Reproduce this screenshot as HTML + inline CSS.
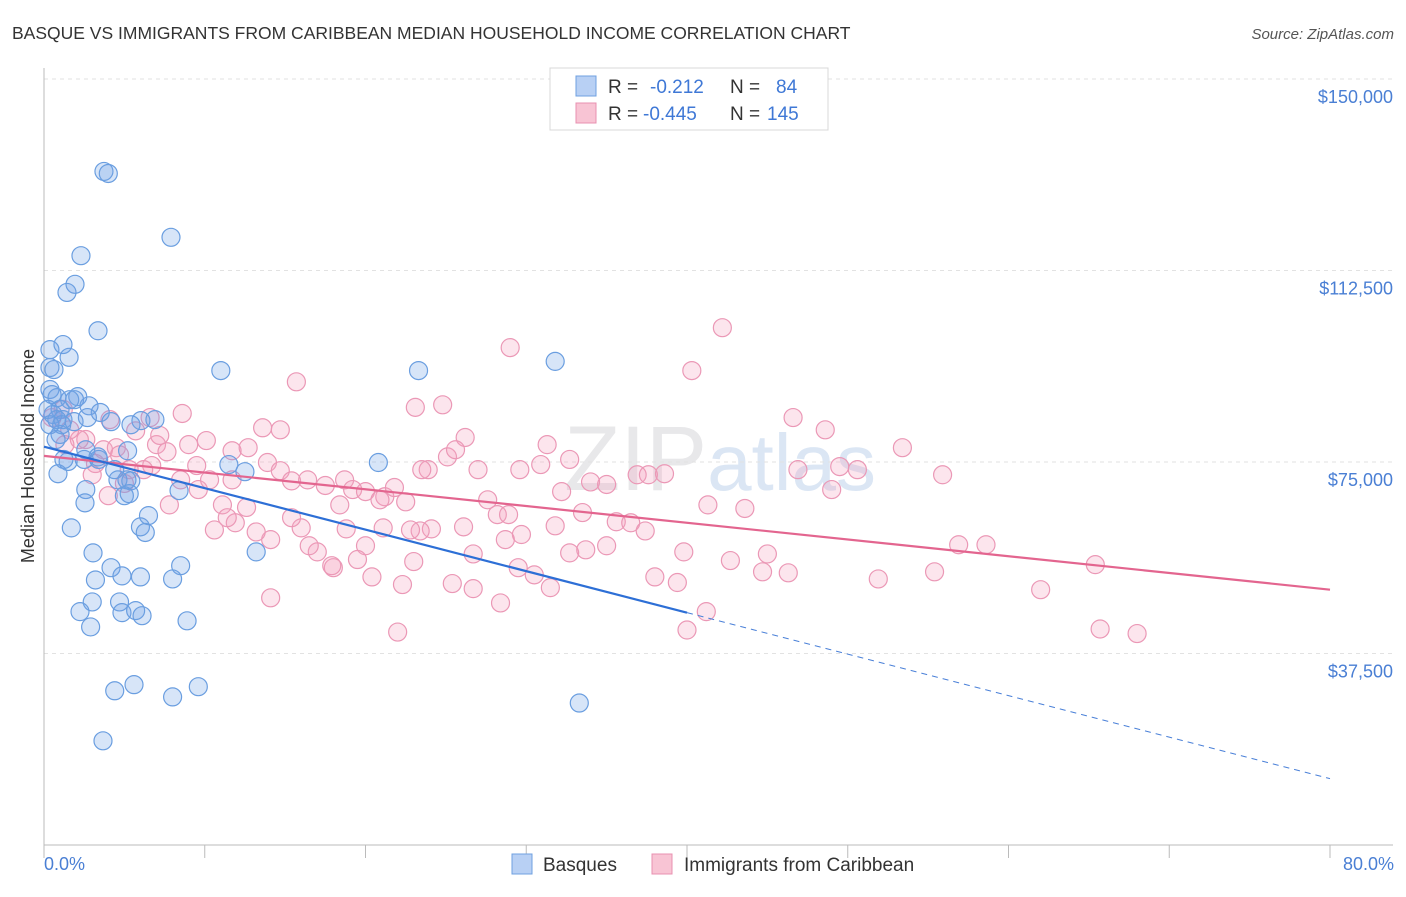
<!DOCTYPE html>
<html><head><meta charset="utf-8">
<style>
body{margin:0;background:#fff;font-family:"Liberation Sans",sans-serif;}
svg text{font-family:"Liberation Sans",sans-serif;}
</style></head>
<body>
<svg id="chart" width="1406" height="892" viewBox="0 0 1406 892" xmlns="http://www.w3.org/2000/svg">
<text x="12" y="39" font-size="17.5" fill="#333">BASQUE VS IMMIGRANTS FROM CARIBBEAN MEDIAN HOUSEHOLD INCOME CORRELATION CHART</text>
<text x="1394" y="39" font-size="15" fill="#555" font-style="italic" text-anchor="end">Source: ZipAtlas.com</text>
<text x="720" y="490" font-size="92" fill="#e8e8ea" text-anchor="middle" font-family="Liberation Serif"><tspan>ZIP</tspan><tspan fill="#dbe6f4" font-family="Liberation Sans" font-size="80">atlas</tspan></text>
<g id="grid"></g>
<g id="axes"></g>
<g id="pts-pink"></g>
<g id="pts-blue"></g>
<g id="trends"></g>
<text transform="translate(34,456) rotate(-90)" font-size="18" fill="#333" text-anchor="middle">Median Household Income</text>
<text x="44" y="870" font-size="18" fill="#4a7fd4">0.0%</text>
<text x="1394" y="870" font-size="18" fill="#4a7fd4" text-anchor="end">80.0%</text>
<g>
<rect x="550" y="68" width="278" height="62" fill="#fff" stroke="#d8d8d8"/>
<rect x="576" y="76" width="20" height="20" fill="#b8d0f4" stroke="#6fa0e0"/>
<text x="608" y="93" font-size="19" fill="#333">R = </text><text x="650" y="93" font-size="19" fill="#3f78d6">-0.212</text>
<text x="730" y="93" font-size="19" fill="#333">N = </text><text x="776" y="93" font-size="19" fill="#3f78d6">84</text>
<rect x="576" y="103" width="20" height="20" fill="#f8c4d4" stroke="#e890b0"/>
<text x="608" y="120" font-size="19" fill="#333">R = </text><text x="643" y="120" font-size="19" fill="#3f78d6">-0.445</text>
<text x="730" y="120" font-size="19" fill="#333">N = </text><text x="767" y="120" font-size="19" fill="#3f78d6">145</text>
</g>
<g>
<rect x="512" y="854" width="20" height="20" fill="#b8d0f4" stroke="#6fa0e0"/>
<text x="543" y="871" font-size="19" fill="#333">Basques</text>
<rect x="652" y="854" width="20" height="20" fill="#f8c4d4" stroke="#e890b0"/>
<text x="684" y="871" font-size="19" fill="#333">Immigrants from Caribbean</text>
</g>
</svg>
<script>
const yTicks=[37500,75000,112500,150000];
const yTickLabels=["$37,500","$75,000","$112,500","$150,000"];
const xTicks=[0,10,20,30,40,50,60,70,80];
const blueX=[3.73,4.0,7.9,2.3,1.43,1.93,3.36,0.37,1.18,1.56,0.37,0.62,11.0,23.3,31.8,0.37,0.81,2.1,1.6,1.0,2.8,3.5,0.56,1.18,1.87,4.17,6.03,5.41,1.0,2.6,3.36,5.2,1.5,1.24,0.87,11.5,12.5,20.8,4.6,5.4,5.16,2.6,5.0,5.3,8.4,2.55,6.5,1.7,6.0,6.3,3.05,13.2,4.17,8.5,3.2,4.85,6.0,8.0,3.0,4.7,2.24,4.85,5.7,6.1,2.9,8.9,5.6,4.4,8.0,9.6,33.3,3.67,0.25,0.5,0.8,1.9,2.7,1.1,2.5,3.4,6.9,0.37,0.75,4.4];
const blueY=[131.9,131.5,119.0,115.4,108.2,109.8,100.7,97.0,98.0,95.5,93.5,93.1,92.9,92.9,94.7,89.2,87.6,87.8,87.2,85.3,86.0,84.7,84.3,83.3,82.9,82.9,83.1,82.3,80.4,77.4,76.0,77.2,75.1,75.5,72.7,74.5,73.1,74.9,71.5,71.3,71.5,69.6,68.4,68.8,69.4,67.0,64.5,62.1,62.3,61.2,57.2,57.4,54.3,54.7,51.9,52.7,52.5,52.1,47.6,47.6,45.7,45.5,45.9,44.9,42.7,43.9,31.4,30.2,29.0,31.0,27.8,20.4,85.3,88.2,83.3,87.2,83.7,82.3,75.5,75.5,83.3,82.3,79.4,73.5];
const pinkX=[42.2,29.0,40.3,15.7,23.1,24.8,8.6,13.6,0.5,2.6,3.7,4.5,5.7,7.0,7.2,7.65,10.1,11.7,12.7,13.9,14.7,15.4,16.4,17.5,18.7,19.2,20.0,21.2,21.8,22.5,23.9,25.1,26.2,27.0,27.6,28.2,28.9,29.6,30.9,31.3,32.7,32.2,34.0,35.0,36.9,37.6,38.6,41.3,43.6,46.9,48.6,49.5,50.6,53.4,55.9,46.6,49.0,33.5,35.6,36.5,37.4,39.8,42.7,45.0,44.7,46.3,51.9,55.4,56.9,58.6,62.0,65.4,65.7,68.0,41.2,40.0,38.0,39.4,35.0,33.7,32.7,31.8,29.7,28.7,26.7,26.1,25.4,26.7,28.4,29.5,30.5,31.5,24.1,23.4,23.0,22.3,22.0,20.4,20.0,18.8,18.4,18.0,17.0,16.5,16.0,15.4,14.1,13.2,11.9,10.6,11.1,9.6,9.5,8.5,7.8,6.7,6.2,5.3,5.0,4.0,3.2,3.0,2.2,1.6,1.2,4.1,6.6,11.4,12.6,14.1,21.1,23.5,25.6,22.8,20.9,19.5,17.9,14.7,10.3,11.7,9.0,4.7,1.3];
const pinkY=[101.3,97.4,92.9,90.7,85.7,86.2,84.5,81.7,83.7,79.4,77.4,77.8,81.1,78.4,80.2,77.0,79.2,77.2,77.8,74.9,73.3,71.3,71.5,70.4,71.5,69.6,69.2,68.2,70.0,67.2,73.5,76.0,79.8,73.5,67.6,64.7,64.7,73.5,74.5,78.4,75.5,69.2,71.1,70.6,72.5,72.5,72.7,66.6,65.9,73.5,81.3,74.1,73.5,77.8,72.5,83.7,69.6,65.1,63.3,63.1,61.5,57.4,55.7,57.0,53.5,53.3,52.1,53.5,58.8,58.8,50.0,54.9,42.3,41.4,45.7,42.1,52.5,51.4,58.6,57.8,57.2,62.5,60.8,59.8,57.0,62.3,51.2,50.2,47.4,54.3,52.9,50.4,61.9,61.5,55.5,51.0,41.7,52.5,58.6,61.9,66.6,54.3,57.4,58.6,62.1,64.1,59.8,61.3,63.1,61.7,66.6,69.6,74.3,71.5,66.6,74.3,73.5,73.5,70.8,68.4,74.7,72.5,79.4,81.3,85.3,83.3,83.7,64.1,66.1,48.4,62.1,73.5,77.4,61.7,67.6,55.9,54.7,81.3,71.5,71.5,78.4,76.4,78.4];
const blueTrend=[78.0,-0.8125];
const pinkTrend=[76.2,-0.3275];

const NS="http://www.w3.org/2000/svg";
const X0=44,X1=1330,Y0=845,YTOP=79;
function sx(p){return X0+(p/80)*(X1-X0);}
function sy(v){return Y0-(v/150000)*(Y0-YTOP);}
function mk(tag,attrs,parent){const e=document.createElementNS(NS,tag);for(const k in attrs)e.setAttribute(k,attrs[k]);parent.appendChild(e);return e;}
const grid=document.getElementById('grid'),axes=document.getElementById('axes');
yTicks.forEach((t,i)=>{
  const l=mk('line',{x1:X0,x2:1393,y1:sy(t),y2:sy(t),stroke:'#e2e2e2','stroke-dasharray':'4,4'},grid);
  
  
  const tx=mk('text',{x:1393,y:sy(t)+24,'font-size':18,fill:'#4a7fd4','text-anchor':'end'},grid);
  tx.textContent=yTickLabels[i];
  
  
});
const xa=mk('line',{x1:X0,x2:1393,y1:Y0,y2:Y0,stroke:'#bbb'},axes);


const ya=mk('line',{x1:X0,x2:X0,y1:68,y2:Y0,stroke:'#bbb'},axes);


xTicks.forEach(t=>{
  const l=mk('line',{x1:sx(t),x2:sx(t),y1:Y0,y2:Y0+13,stroke:'#bbb'},axes);
  
  
});
function pts(xs,ys,g,fill,stroke,name){
  const gp=document.getElementById(g);
  xs.forEach((x,i)=>{
    const c=mk('circle',{cx:sx(x),cy:sy(ys[i]*1000),r:9,fill:fill,stroke:stroke,'stroke-width':1.2},gp);
    
    
  });
}
pts(pinkX,pinkY,'pts-pink','rgba(244,160,190,0.28)','#eb98b6','caribbean-point');
pts(blueX,blueY,'pts-blue','rgba(110,160,230,0.28)','#6a9ee0','basque-point');
const tr=document.getElementById('trends');
function tv(t,x){return (t[0]+t[1]*x)*1000;}
const pl=mk('line',{x1:sx(0),y1:sy(tv(pinkTrend,0)),x2:sx(80),y2:sy(tv(pinkTrend,80)),stroke:'#e3658f','stroke-width':2.2},tr);


const bl=mk('line',{x1:sx(0),y1:sy(tv(blueTrend,0)),x2:sx(40),y2:sy(tv(blueTrend,40)),stroke:'#2d6fd6','stroke-width':2.2},tr);


const bd=mk('line',{x1:sx(40),y1:sy(tv(blueTrend,40)),x2:sx(80),y2:sy(tv(blueTrend,80)),stroke:'#4a80d8','stroke-width':1,'stroke-dasharray':'6,5'},tr);


</script>
</body></html>
